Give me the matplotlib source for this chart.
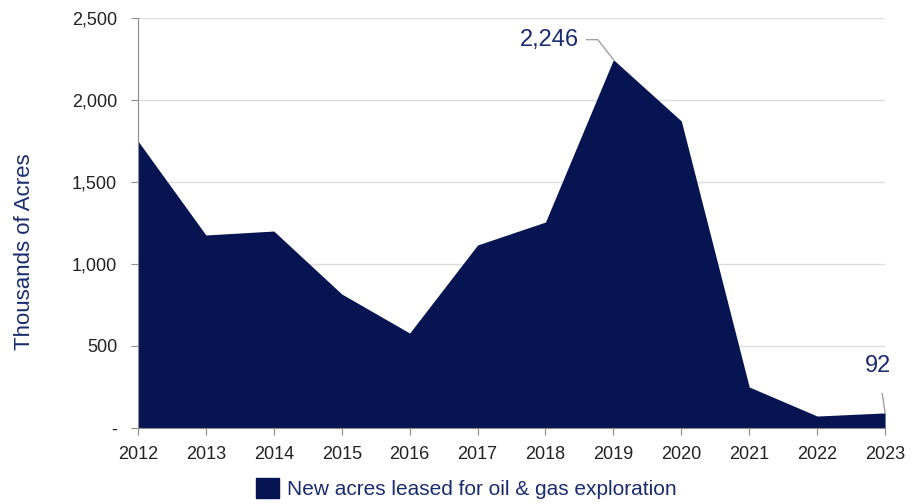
import matplotlib.pyplot as plt
from matplotlib.patches import Patch
from matplotlib.ticker import FuncFormatter

plt.rcParams['font.family'] = ['Liberation Sans', 'DejaVu Sans']

years = [2012, 2013, 2014, 2015, 2016, 2017, 2018, 2019, 2020, 2021, 2022, 2023]
acres = [1750, 1177, 1201, 817, 579, 1116, 1256, 2246, 1872, 250, 73, 92]

NAVY = "#061552"
LABEL_BLUE = "#1a2c6e"
GREY = "#8c8c8c"

fig = plt.figure(figsize=(9.21, 5.04), dpi=100)
ax = fig.add_axes([0.1498, 0.1508, 0.8112, 0.8135])

ax.fill_between(years, acres, 0, color=NAVY, linewidth=0)

ax.set_xlim(2012, 2023)
ax.set_ylim(0, 2500)
ax.set_xticks(years)
ax.set_yticks(range(0, 2501, 500))
ax.yaxis.set_major_formatter(FuncFormatter(lambda v, p: "-" if v == 0 else f"{int(v):,}"))

ax.grid(axis="y", color="#dcdcdc", linewidth=1)
ax.set_axisbelow(True)
for s in ["top", "right"]:
    ax.spines[s].set_visible(False)
ax.spines["left"].set_color(GREY)
ax.spines["bottom"].set_color(GREY)
ax.tick_params(axis="both", colors=GREY, labelcolor="#222222", labelsize=13, length=5)
ax.tick_params(axis="y", pad=10)
ax.tick_params(axis="x", pad=8)

ax.set_ylabel("Thousands of Acres", color=LABEL_BLUE, fontsize=16)
ax.yaxis.set_label_coords(-0.138, 0.43)

# value callouts on the peak and the last year
ax.annotate(f"{acres[7]:,}", xy=(years[7], acres[7]), xytext=(-34, 20),
            textcoords="offset pixels", ha="right", va="center",
            fontsize=17, color=LABEL_BLUE,
            arrowprops=dict(arrowstyle="-", color="#a0a0a0", lw=1,
                            shrinkA=3, shrinkB=0,
                            connectionstyle="angle,angleA=0,angleB=128,rad=0"))
ax.annotate(f"{acres[-1]:,}", xy=(years[-1], acres[-1]), xytext=(-7, 47),
            textcoords="offset pixels", ha="center", va="center",
            fontsize=17, color=LABEL_BLUE,
            arrowprops=dict(arrowstyle="-", color="#a0a0a0", lw=1,
                            shrinkA=10, shrinkB=0))

fig.legend(handles=[Patch(color=NAVY, label="New acres leased for oil & gas exploration")],
           loc="center", bbox_to_anchor=(0.506, 0.03), frameon=False,
           fontsize=15, labelcolor=LABEL_BLUE, handlelength=1.1, handleheight=1.1,
           handletextpad=0.4)

fig.savefig("out.png", dpi=100)
